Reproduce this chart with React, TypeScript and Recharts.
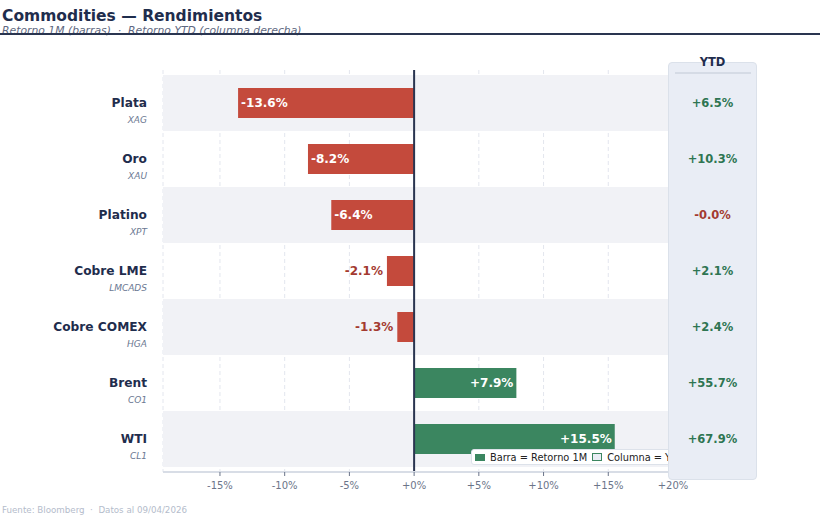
import React from 'react'
import { Bar, BarChart, CartesianGrid, Cell, LabelList, Legend, ReferenceArea, ReferenceLine, XAxis, YAxis } from 'recharts'

const commodities = ['Plata', 'Oro', 'Platino', 'Cobre LME', 'Cobre COMEX', 'Brent', 'WTI']
const tickers = ['XAG', 'XAU', 'XPT', 'LMCADS', 'HGA', 'CO1', 'CL1']
const return1M = [-13.6, -8.2, -6.4, -2.1, -1.3, 7.9, 15.5]
const returnYTD = [6.5, 10.3, -0.04, 2.1, 2.4, 55.7, 67.9]
const xTicks = [-15, -10, -5, 0, 5, 10, 15, 20]
const xDomain: [number, number] = [-19.4, 20]

const NAVY = '#1f2d4d'
const RED = '#c44a3c'
const RED_TEXT = '#a33a30'
const GREEN = '#3b8660'
const GREEN_TEXT = '#2e7552'
const FONT = '"DejaVu Sans", Verdana, sans-serif'

const rows = commodities.map((name, i) => ({
  name,
  ticker: tickers[i],
  r1m: return1M[i],
  ytd: returnYTD[i],
}))

const fmtPct = (v: number) => `${v >= 0 ? '+' : '-'}${Math.abs(v).toFixed(1)}%`
const fmtTick = (v: number) => `${v >= 0 ? '+' : ''}${v}%`

function CategoryTick(props: any) {
  const { y, payload } = props
  const row = rows[payload.index] ?? rows.find(r => r.name === payload.value)
  return (
    <g>
      <text x={147} y={y} dy="0.35em" textAnchor="end" fontSize={12.2} fontWeight="bold" fill={NAVY} fontFamily={FONT}>
        {payload.value}
      </text>
      <text x={147} y={y + 17} dy="0.35em" textAnchor="end" fontSize={9} fontStyle="italic" fill="#6b7892" fontFamily={FONT}>
        {row?.ticker}
      </text>
    </g>
  )
}

function BarValueLabel(props: any) {
  const { x, y, width, height, value } = props
  const left = Math.min(x, x + width)
  const right = Math.max(x, x + width)
  const cy = y + height / 2
  const inside = Math.abs(value) >= 5
  let tx = 0
  let anchor: 'start' | 'end' = 'start'
  let fill = '#ffffff'
  if (value < 0) {
    if (inside) {
      tx = left + 3
      anchor = 'start'
    } else {
      tx = left - 4
      anchor = 'end'
      fill = RED_TEXT
    }
  } else {
    tx = inside ? right - 3 : right + 4
    anchor = inside ? 'end' : 'start'
    fill = inside ? '#ffffff' : GREEN_TEXT
  }
  return (
    <text x={tx} y={cy} dy="0.35em" textAnchor={anchor} fontSize={12} fontWeight="bold" fill={fill} fontFamily={FONT}>
      {fmtPct(value)}
    </text>
  )
}

function YtdLabel(props: any) {
  const { y, height, value } = props
  return (
    <text x={44.5} y={y + height / 2} dy="0.35em" textAnchor="middle" fontSize={11.5} fontWeight="bold" fill={value < 0 ? RED_TEXT : GREEN_TEXT} fontFamily={FONT}>
      {fmtPct(value)}
    </text>
  )
}

function LegendBox() {
  const swatch = { display: 'inline-block', flexShrink: 0, marginRight: 5, boxSizing: 'border-box' as const }
  return (
    <div style={{ display: 'flex', alignItems: 'center', width: 240, background: '#fff', border: '1px solid #dde2ea', borderRadius: 3, height: 16, padding: '0 3px', whiteSpace: 'nowrap', fontFamily: FONT, fontSize: 9.8, color: '#222', boxSizing: 'border-box' }}>
      <span style={{ ...swatch, width: 10, height: 7, background: GREEN }} />
      <span style={{ flexShrink: 0, marginRight: 5 }}>Barra = Retorno 1M</span>
      <span style={{ ...swatch, width: 10, height: 8, background: '#e9edf5', border: `1px solid ${GREEN}` }} />
      <span style={{ flexShrink: 0 }}>Columna = YTD</span>
    </div>
  )
}

export default function App() {
  return (
    <div style={{ position: 'absolute', left: 0, top: 0, width: 828, height: 525, background: '#fff', fontFamily: FONT, overflow: 'hidden' }}>
      <div style={{ position: 'absolute', left: 2, top: 6, fontSize: 15.5, fontWeight: 'bold', color: NAVY, lineHeight: '20px' }}>
        Commodities — Rendimientos
      </div>
      <div style={{ position: 'absolute', left: 2, top: 24, fontSize: 10.8, fontStyle: 'italic', color: '#5d6780', lineHeight: '13px' }}>
        Retorno 1M (barras)&nbsp;&nbsp;·&nbsp;&nbsp;Retorno YTD (columna derecha)
      </div>
      <div style={{ position: 'absolute', left: 0, top: 32.5, width: 820, height: 2.5, background: '#2a3550' }} />

      <div style={{ position: 'absolute', left: 0, top: 0 }}>
        <BarChart width={828} height={525} data={rows} layout="vertical" margin={{ top: 70, right: 155, bottom: 6, left: 0 }} barSize={30}>
          {commodities.map((c, i) =>
            i % 2 === 0 ? (
              <ReferenceArea key={c} y1={c} y2={c} x1={xDomain[0]} x2={xDomain[1]} fill="#f1f2f6" fillOpacity={1} stroke="none" ifOverflow="visible" />
            ) : null
          )}
          <CartesianGrid horizontal={false} vertical stroke="#e3e6ee" strokeDasharray="4 3" />
          <XAxis
            type="number"
            domain={xDomain}
            ticks={xTicks}
            allowDataOverflow
            tickFormatter={fmtTick}
            tick={{ fontSize: 10, fill: '#6b7489', fontFamily: FONT }}
            axisLine={{ stroke: '#d8dde6', strokeWidth: 2 }}
            tickLine={{ stroke: '#6b7489' }}
            tickSize={4}
            tickMargin={6}
          />
          <YAxis type="category" dataKey="name" width={163} axisLine={false} tickLine={false} tick={<CategoryTick />} padding={{ top: 5, bottom: 5 }} interval={0} />
          <ReferenceLine x={0} stroke="#2a3550" strokeWidth={2} />
          <Bar dataKey="r1m" isAnimationActive={false}>
            {rows.map(r => (
              <Cell key={r.name} fill={r.r1m < 0 ? RED : GREEN} />
            ))}
            <LabelList dataKey="r1m" content={<BarValueLabel />} />
          </Bar>
          <Legend content={<LegendBox />} wrapperStyle={{ position: 'absolute', left: 471, top: 449, width: 197, overflow: 'hidden', height: 17 }} />
        </BarChart>
      </div>

      <div style={{ position: 'absolute', left: 668, top: 62, width: 89, height: 418, background: '#e9edf5', border: '1px solid #dbe1ea', borderRadius: 4, boxSizing: 'border-box' }}>
        <div style={{ position: 'absolute', left: 0, top: -8, width: '100%', textAlign: 'center', fontSize: 11.5, fontWeight: 'bold', color: NAVY, lineHeight: '14px' }}>
          YTD
        </div>
        <div style={{ position: 'absolute', left: 6, top: 9, width: 76, height: 1.5, background: '#d5dbe5' }} />
        <div style={{ position: 'absolute', left: -1, top: -1 }}>
          <BarChart width={89} height={418} data={rows} layout="vertical" margin={{ top: 8, right: 0, bottom: 8, left: 0 }} barSize={30}>
            <XAxis type="number" hide domain={[0, 1]} />
            <YAxis type="category" dataKey="name" hide padding={{ top: 5, bottom: 5 }} />
            <Bar dataKey={() => 1} fill="transparent" isAnimationActive={false}>
              <LabelList dataKey="ytd" content={<YtdLabel />} />
            </Bar>
          </BarChart>
        </div>
      </div>

      <div style={{ position: 'absolute', left: 2, top: 505, fontSize: 8.7, color: '#b4bccb' }}>
        Fuente: Bloomberg&nbsp;&nbsp;·&nbsp;&nbsp;Datos al 09/04/2026
      </div>
    </div>
  )
}
